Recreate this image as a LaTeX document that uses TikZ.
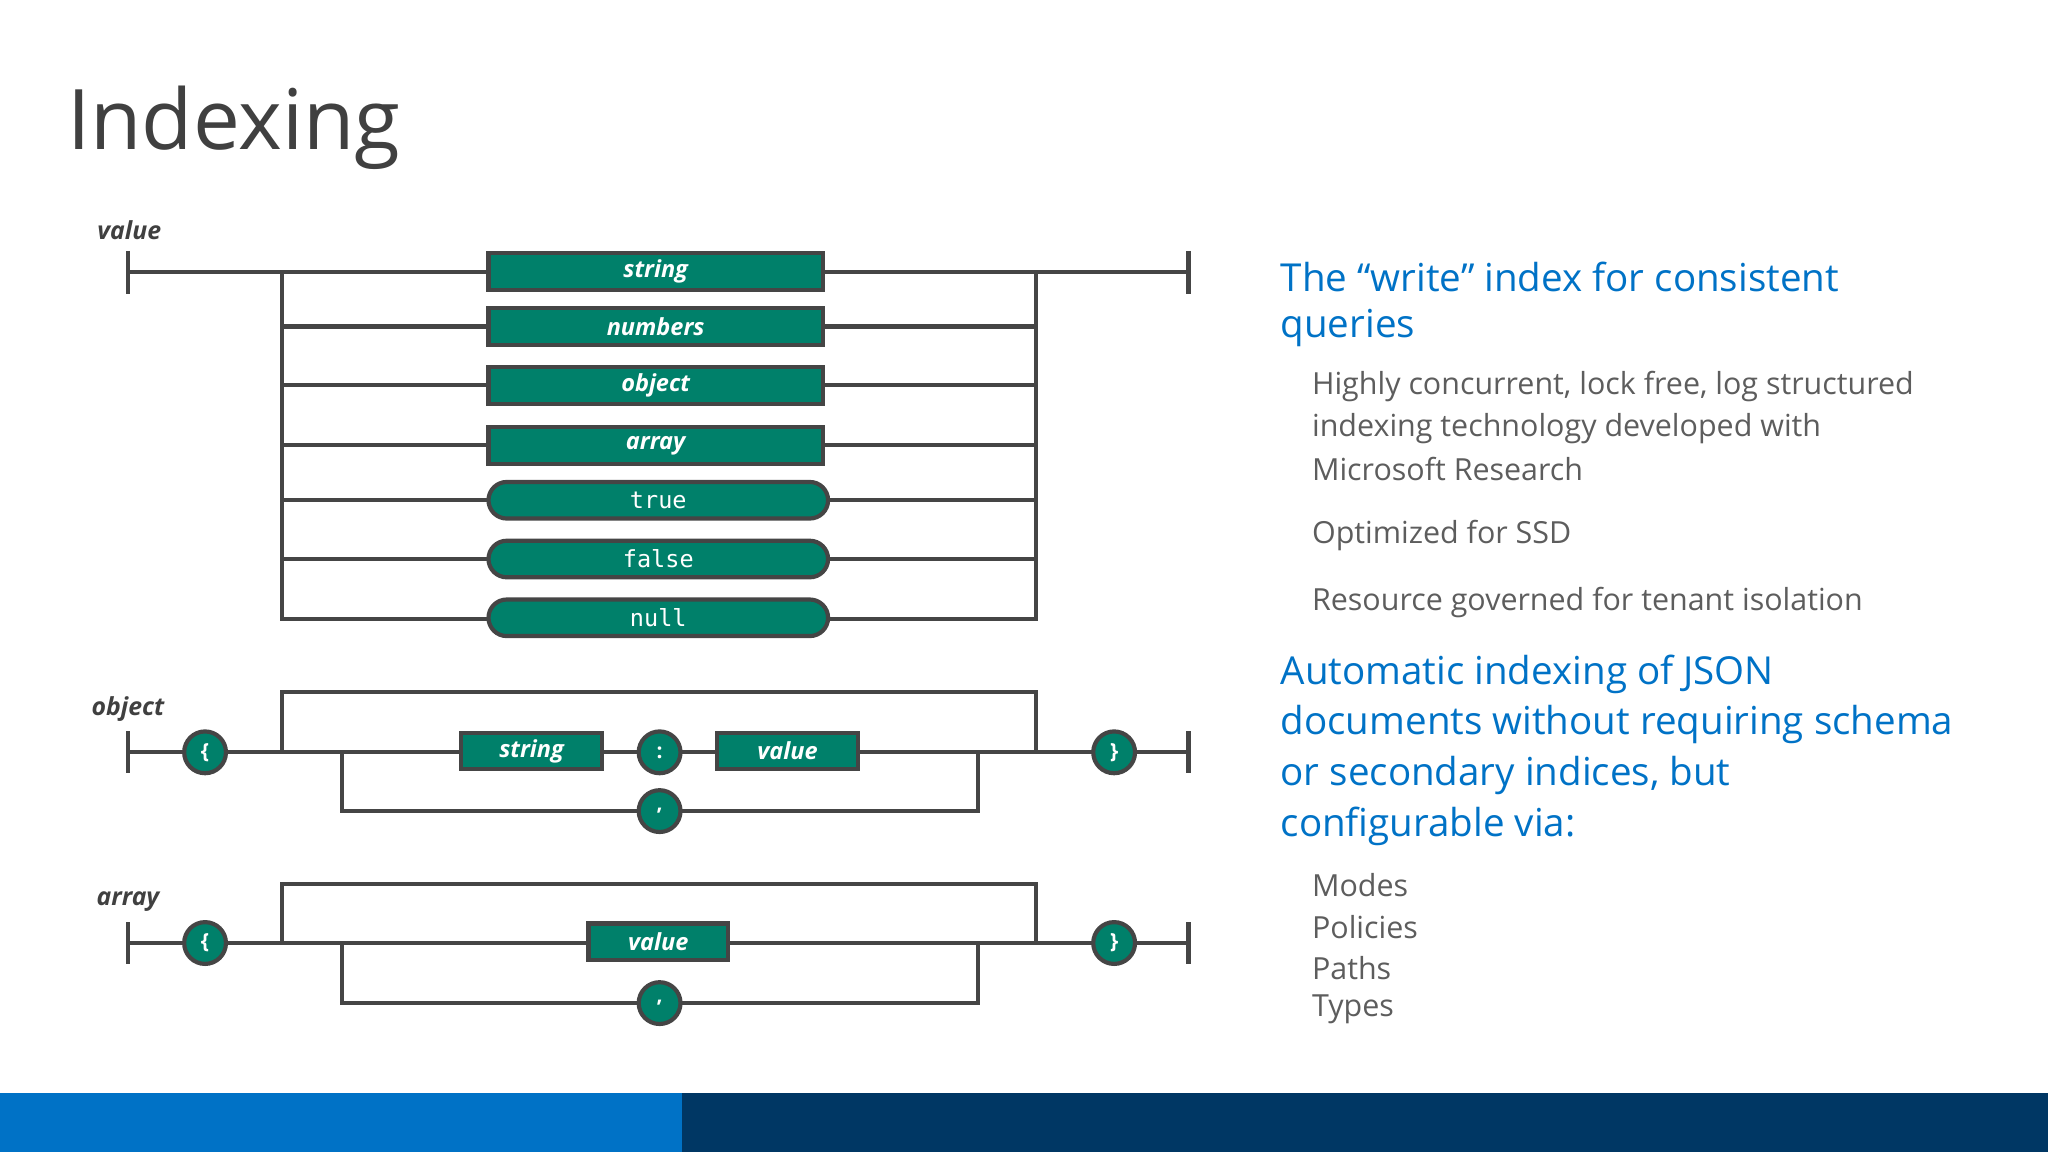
\documentclass[tikz,border=0pt]{standalone}
\usepackage{fontspec}
\setmainfont{Open Sans}
\newfontfamily\monof{DejaVu Sans Mono}
\begin{document}
\definecolor{teal1}{HTML}{00806A}
\definecolor{ln}{HTML}{454545}
\definecolor{blu}{HTML}{0072C6}
\definecolor{navy}{HTML}{003764}
\definecolor{gtx}{HTML}{404040}
\begin{tikzpicture}[x=1pt,y=-1pt,
  ln/.style={draw=ln,line width=3.2},
  box/.style={ln,fill=teal1,text=white,font=\fontsize{18}{18}\selectfont\bfseries\itshape,minimum height=28,inner sep=0,anchor=center},
  rbox/.style={box,rounded corners=14,font=\fontsize{18}{18}\selectfont\monof},
  circ/.style={ln,fill=teal1,circle,minimum size=32,inner sep=0,text=white,font=\fontsize{16}{16}\selectfont\bfseries},
  lab/.style={font=\fontsize{19}{19}\selectfont\bfseries\itshape,text=gtx},
  h/.style={anchor=west,text=blu,font=\fontsize{29.5}{29.5}\selectfont},
  g/.style={anchor=west,text=gtx!85,font=\fontsize{23.3}{23.3}\selectfont}]
\useasboundingbox (0,0) rectangle (1568,882);
\fill[blu] (0,837) rectangle (522,882);
\fill[navy] (522,837) rectangle (1568,882);
\node[anchor=west,text=gtx,font=\fontsize{64}{64}\selectfont] (title) at (48,98) {Indexing};
% value diagram
\node[lab] (lv) at (99,176) {value};
\coordinate (vs) at (98,208); \coordinate (ve) at (910,208);
\draw[ln] (98,192) -- (98,225); \draw[ln] (910,192) -- (910,225);
\draw[ln] (vs) -- (ve);
\draw[ln] (216,208) -- (216,474) -- (793,474) -- (793,208);
\foreach \y in {250,295,341,383,428} \draw[ln] (216,\y) -- (793,\y);
\node[box,minimum width=256] (s) at (502,208) {string};
\node[box,minimum width=256] (n) at (502,250) {numbers};
\node[box,minimum width=256] (o) at (502,295) {object};
\node[box,minimum width=256] (a) at (502,341) {array};
\node[rbox,minimum width=260] (t) at (504,383) {true};
\node[rbox,minimum width=260] (f) at (504,428) {false};
\node[rbox,minimum width=260] (nl) at (504,473) {null};
% object diagram
\node[lab] (lo) at (98,543) {object};
\draw[ln] (98,560) -- (98,592); \draw[ln] (910,560) -- (910,592);
\draw[ln] (98,576) -- (910,576);
\draw[ln] (216,576) -- (216,530) -- (793,530) -- (793,576);
\draw[ln] (262,576) -- (262,621) -- (749,621) -- (749,576);
\node[circ] (ob) at (157,576) {\{};
\node[box,minimum width=108] (os) at (407,575) {string};
\node[circ] (oc) at (505,576) {:};
\node[box,minimum width=108] (ov) at (603,575) {value};
\node[circ] (ocm) at (505,621) {,};
\node[circ] (oe) at (853,576) {\}};
% array diagram
\node[lab] (la) at (98,690) {array};
\draw[ln] (98,706) -- (98,738); \draw[ln] (910,706) -- (910,738);
\draw[ln] (98,722) -- (910,722);
\draw[ln] (216,722) -- (216,677) -- (793,677) -- (793,722);
\draw[ln] (262,722) -- (262,768) -- (749,768) -- (749,722);
\node[circ] (ab) at (157,722) {\{};
\node[box,minimum width=107] (av) at (504,721) {value};
\node[circ] (acm) at (505,768) {,};
\node[circ] (ae) at (853,722) {\}};
% text
\node[h] (h1a) at (977,212) {The “write” index for consistent};
\node[h] (h1b) at (977,251) {queries};
\node[g] (g1) at (1001,296) {Highly concurrent, lock free, log structured};
\node[g] (g2) at (1001,328) {indexing technology developed with};
\node[g] (g3) at (1001,359) {Microsoft Research};
\node[g] (g4) at (1001,410) {Optimized for SSD};
\node[g] (g5) at (1001,461) {Resource governed for tenant isolation};
\node[h] (h2a) at (977,516) {Automatic indexing of JSON};
\node[h] (h2b) at (977,555) {documents without requiring schema};
\node[h] (h2c) at (977,594) {or secondary indices, but};
\node[h] (h2d) at (977,633) {configurable via:};
\node[g] (m1) at (1001,678) {Modes};
\node[g] (m2) at (1001,710) {Policies};
\node[g] (m3) at (1001,741) {Paths};
\node[g] (m4) at (1001,773) {Types};
\end{tikzpicture}
\end{document}
